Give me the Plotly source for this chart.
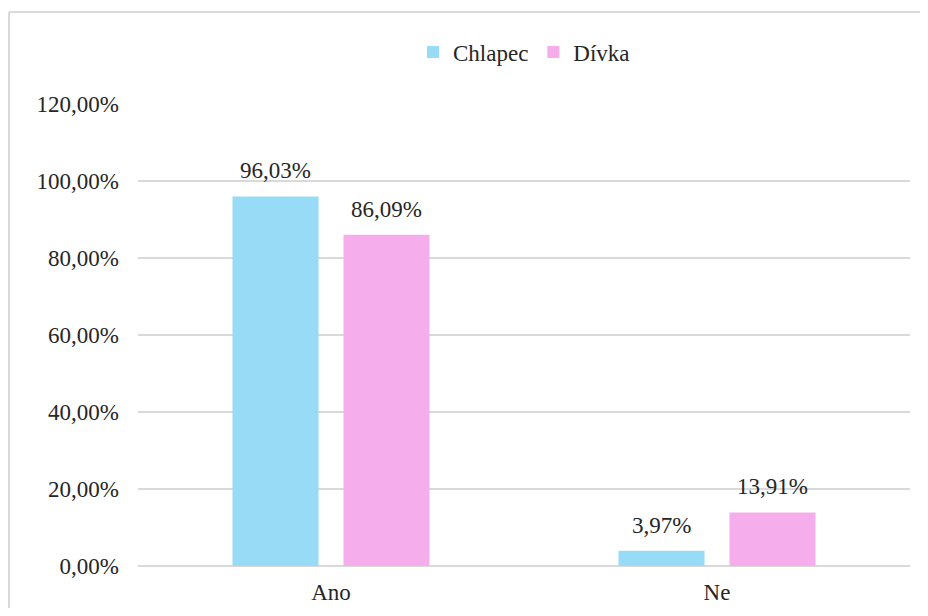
import plotly.graph_objects as go

categories = ["Ano", "Ne"]
series_names = ["Chlapec", "Dívka"]
chlapec = [0.9603, 0.0397]
divka = [0.8609, 0.1391]
series_values = [chlapec, divka]
colors = ["#97DBF7", "#F6ADEC"]

# The page body adds an 8px offset; the figure is sized to fit inside it.
W, H = 912, 600
ml, mr, mt, mb = 130, 10, 96, 42
pw = W - ml - mr
ph = H - mt - mb
font_family = "Times New Roman, Liberation Serif, serif"
txt_color = "#262626"
fs = 23

fig = go.Figure()
for name, vals, col in zip(series_names, series_values, colors):
    fig.add_trace(go.Bar(x=categories, y=vals, name=name, marker_color=col,
                         marker_line_width=0))

bargap = 0.425
slot = pw / len(categories) * (1 - bargap) / len(series_names)
annotations = []
for i, vals in enumerate(series_values):
    for c, v in zip(categories, vals):
        annotations.append(dict(
            x=c, y=v, xref="x", yref="y",
            text=f"{v*100:.2f}%".replace(".", ","),
            showarrow=False, yanchor="bottom",
            xshift=(i - (len(series_names) - 1) / 2) * slot, yshift=11,
            font=dict(family=font_family, size=fs, color=txt_color)))

# chart-area frame (top and left edges; the rest falls outside the picture)
fx0 = (1 - ml) / pw
fx1 = (W - ml) / pw
fy0 = -(H - mt - ph) / ph
fy1 = 1 + (mt - 4) / ph
frame = dict(color="#d9d9d9", width=2)

fig.update_layout(
    width=W, height=H,
    margin=dict(l=ml, r=mr, t=mt, b=mb),
    paper_bgcolor="white", plot_bgcolor="white",
    separators=", ",
    barmode="group", bargap=bargap, bargroupgap=0.225,
    font=dict(family=font_family, size=fs, color=txt_color),
    legend=dict(orientation="h", x=0.5, xanchor="center",
                y=1 + (mt - 44) / ph, yanchor="middle",
                font=dict(family=font_family, size=fs), traceorder="normal"),
    annotations=annotations,
    shapes=[
        dict(type="line", xref="paper", yref="paper", x0=fx0, x1=fx1,
             y0=fy1, y1=fy1, line=frame, layer="below"),
        dict(type="line", xref="paper", yref="paper", x0=fx0, x1=fx0,
             y0=fy0, y1=fy1, line=frame, layer="below"),
    ],
)
fig.update_yaxes(range=[0, 1.2005], tick0=0, dtick=0.2, tickformat=".2%",
                 showgrid=True, gridcolor="#d9d9d9", gridwidth=2,
                 zeroline=True, zerolinecolor="#d9d9d9", zerolinewidth=2,
                 showline=False, ticks="", ticklen=0, ticklabelstandoff=18,
                 tickfont=dict(family=font_family, size=fs, color=txt_color),
                 automargin=False)
fig.update_xaxes(showline=False, ticks="", showgrid=False, ticklabelstandoff=10,
                 tickfont=dict(family=font_family, size=fs, color=txt_color),
                 automargin=False)

fig.write_html("out.html")
